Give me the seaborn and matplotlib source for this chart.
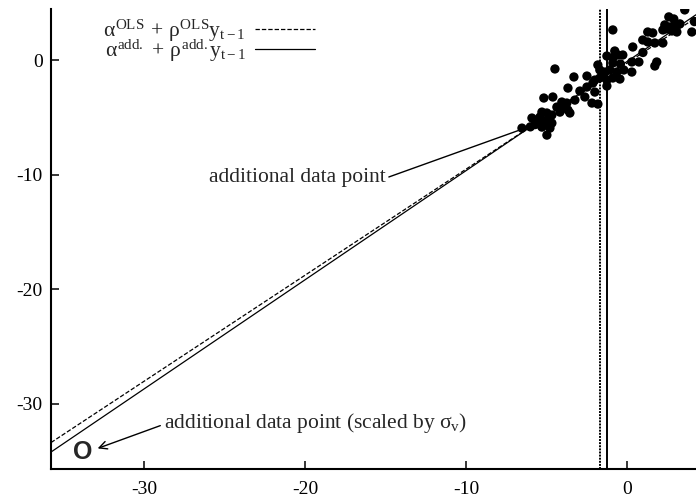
import matplotlib
matplotlib.use("Agg")
import matplotlib.pyplot as plt
import numpy as np
import pandas as pd
import seaborn as sns

y_lag = [3.60, 2.61, 2.92, 2.36, 2.67, 2.92, 2.24, 2.48, 2.80, 3.11, 4.04, 1.30,
         1.61, -0.87, 0.99, 1.30, 1.74, 2.24, 0.37, -0.75, -0.25, -1.24, -0.87,
         -0.56, 0.31, 0.75, 1.86, 1.74, -0.87, -4.47, -1.80, -1.68, -1.37, -1.06,
         -0.62, -0.19, 0.31, -2.48, -1.99, -1.68, -1.24, -0.87, -0.43, -3.29,
         -2.11, -1.24, -3.66, -2.92, -2.48, -1.99, -2.61, -5.16, -4.60, -4.04,
         -3.73, -3.23, -4.35, -3.98, -3.66, -4.16, -3.54, -2.17, -1.80, -5.28,
         -4.97, -4.66, -5.40, -5.90, -5.59, -5.22, -4.91, -4.66, -5.28, -4.97,
         -4.78, -6.52, -4.97, 4.20, 3.30, 1.00, -0.40, -5.70, -6.00]
y_now = [4.42, 3.81, 3.63, 3.11, 2.93, 3.02, 2.67, 2.76, 2.58, 2.49, 2.49, 2.49,
         2.41, 2.67, 1.79, 1.62, 1.53, 1.53, 1.18, 0.83, 0.48, 0.39, 0.22, 0.48,
         -0.13, -0.13, -0.13, -0.48, -0.22, -0.74, -0.39, -0.83, -1.01, -0.83,
         -1.01, -0.83, -1.01, -1.36, -1.71, -1.53, -1.71, -1.53, -1.62, -1.44,
         -1.97, -2.23, -2.41, -2.67, -2.32, -2.76, -3.19, -3.28, -3.19, -3.63,
         -3.72, -3.46, -4.07, -3.98, -4.33, -4.51, -4.59, -3.72, -3.81, -4.51,
         -4.59, -4.77, -4.94, -5.03, -5.21, -5.38, -5.21, -5.47, -5.82, -5.64,
         -5.91, -5.91, -6.52, 3.40, 3.20, 0.70, -0.30, -5.60, -5.80]

# fitted AR(1) coefficients
alpha_ols, rho_ols = -0.24, 0.926
alpha_add, rho_add = -0.10, 0.953

# additional data point and its scaled version
add_point = (-6.15, -5.82)
add_scaled = (-33.8, -34.25)

# vertical reference lines
vline_dotted = -1.68
vline_solid = -1.26

x_range = [-35.8, 4.3]
y_range = [-35.7, 4.5]
ticks = [-30, -20, -10, 0]

sns.set_style("ticks")
plt.rcParams["font.family"] = ["Liberation Serif", "DejaVu Serif"]
plt.rcParams["axes.unicode_minus"] = False
plt.rcParams["mathtext.fontset"] = "custom"
plt.rcParams["mathtext.rm"] = "Liberation Serif"
plt.rcParams["mathtext.it"] = "Liberation Serif"
plt.rcParams["mathtext.bf"] = "Liberation Serif:bold"

fig = plt.figure(figsize=(6.96, 5.01), dpi=100)
ax = fig.add_axes([51 / 696, 1 - 469 / 501, 645 / 696, 460 / 501])

grid = pd.DataFrame({"x": x_range})
grid["ols"] = alpha_ols + rho_ols * grid["x"]
grid["add"] = alpha_add + rho_add * grid["x"]

sns.lineplot(data=grid, x="x", y="ols", ax=ax, color="black", lw=0.9,
             linestyle=(0, (3.5, 1.6)),
             label=r"$α^{\rm OLS}\,+\,ρ^{\rm OLS}y_{\rm t-1}$")
sns.lineplot(data=grid, x="x", y="add", ax=ax, color="black", lw=0.9,
             label=r"$α^{\rm add.}\,+\,ρ^{\rm add.}y_{\rm t-1}$")

ax.axvline(vline_dotted, color="black", lw=1.4, linestyle=(0, (1, 0.6)))
ax.axvline(vline_solid, color="black", lw=1.4)

pts = pd.DataFrame({"lag": y_lag, "now": y_now})
sns.scatterplot(data=pts, x="lag", y="now", ax=ax, color="black", s=45,
                edgecolor="none", legend=False, zorder=3)

ax.text(add_scaled[0], add_scaled[1], "O", family="Liberation Sans",
        weight="bold", fontsize=18, ha="center", va="center")

ax.annotate("additional data point", xy=add_point, xytext=(-15.0, -10.2),
            ha="right", va="center", fontsize=15.5,
            arrowprops=dict(arrowstyle="-", lw=1, color="black",
                            shrinkA=0, shrinkB=0, relpos=(1, 0.45)))
ax.annotate(r"additional data point (scaled by $σ_{\rm v}$)",
            xy=(-32.9, -33.9), xytext=(-28.8, -31.7),
            ha="left", va="center", fontsize=15.5,
            arrowprops=dict(arrowstyle="->", lw=1, color="black",
                            shrinkA=0, shrinkB=0, mutation_scale=14,
                            relpos=(0, 0.45)))

ax.set_xlim(x_range)
ax.set_ylim(y_range)
ax.set_xticks(ticks)
ax.set_yticks(ticks)
ax.set_xlabel("")
ax.set_ylabel("")
ax.tick_params(direction="in", length=6, width=1.1, labelsize=14, colors="black")
ax.tick_params(axis="x", pad=9)
ax.tick_params(axis="y", pad=6)
for side in ["top", "right"]:
    ax.spines[side].set_visible(False)
for side in ["left", "bottom"]:
    ax.spines[side].set_linewidth(1.5)
    ax.spines[side].set_color("black")

leg = ax.legend(loc="center right", bbox_to_anchor=(315 / 696, 1 - 40.5 / 501),
                bbox_transform=fig.transFigure, frameon=False, markerfirst=False,
                fontsize=15.5, handlelength=2.8, handletextpad=0.4,
                labelspacing=-0.28, borderpad=0, borderaxespad=0)

fig.savefig("out.png", dpi=100)
